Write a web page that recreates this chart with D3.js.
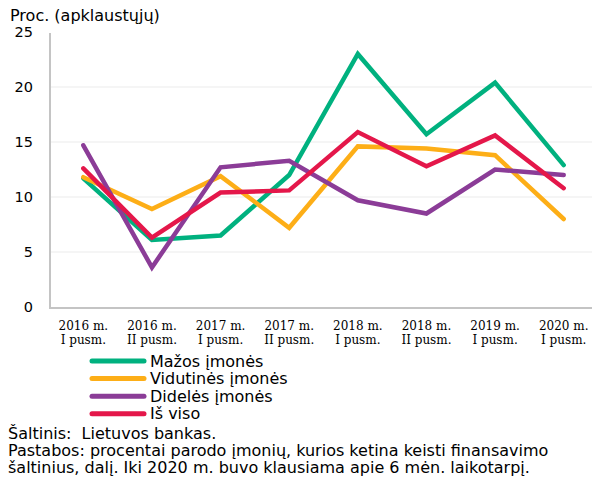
<!DOCTYPE html>
<html>
<head>
<meta charset="utf-8">
<script src="https://cdn.jsdelivr.net/npm/d3@7"></script>
<style>
  body { margin: 0; background: #fff; }
  svg { display: block; }
  text { font-family: "DejaVu Sans", Verdana, sans-serif; fill: #000; }
</style>
</head>
<body>
<div id="chart"></div>
<script>
var periods = [
    ["2016 m.", "I pusm."], ["2016 m.", "II pusm."], ["2017 m.", "I pusm."], ["2017 m.", "II pusm."],
    ["2018 m.", "I pusm."], ["2018 m.", "II pusm."], ["2019 m.", "I pusm."], ["2020 m.", "I pusm."]
];
var mazos = [11.7, 6.1, 6.5, 12.0, 23.0, 15.7, 20.4, 12.9];
var vidutines = [11.8, 8.9, 11.9, 7.2, 14.6, 14.4, 13.8, 8.0];
var dideles = [14.7, 3.6, 12.7, 13.3, 9.7, 8.5, 12.5, 12.0];
var isViso = [12.6, 6.3, 10.4, 10.6, 15.9, 12.8, 15.6, 10.8];
var yTicks = [0, 5, 10, 15, 20, 25];

var series = [
    {name: "Mažos įmonės", values: mazos, color: "#00b17f"},
    {name: "Vidutinės įmonės", values: vidutines, color: "#fdae17"},
    {name: "Didelės įmonės", values: dideles, color: "#8b3c97"},
    {name: "Iš viso", values: isViso, color: "#e4174a"}
];

var width = 592, height = 480;
var svg = d3.select("#chart").append("svg")
    .attr("width", width)
    .attr("height", height);

var x = d3.scaleBand()
    .domain(d3.range(periods.length))
    .range([49, 598]);
var y = d3.scaleLinear()
    .domain([0, 25])
    .range([307, 32]);

// y unit label
svg.append("text")
    .attr("x", 10).attr("y", 21)
    .style("font-size", "16px")
    .text("Proc. (apklaustųjų)");

// gridlines
svg.append("g").selectAll("line")
    .data(yTicks.filter(function (d) { return d > 0 && d < 25; }))
    .enter().append("line")
    .attr("x1", 50).attr("x2", width)
    .attr("y1", function (d) { return y(d); })
    .attr("y2", function (d) { return y(d); })
    .attr("stroke", "#ebebeb")
    .attr("stroke-width", 1);

// y axis
var yAxis = svg.append("g")
    .attr("transform", "translate(50,0)")
    .call(d3.axisLeft(y).tickValues(yTicks).tickSize(0).tickPadding(17));
yAxis.select(".domain").remove();
yAxis.selectAll("text")
    .style("font-family", "DejaVu Sans, sans-serif")
    .style("font-size", "14.5px")
    .attr("fill", "#000");

// frame lines
svg.append("line")
    .attr("x1", 50).attr("x2", 50)
    .attr("y1", 33).attr("y2", 308)
    .attr("stroke", "#c4c4c4").attr("stroke-width", 2);
svg.append("line")
    .attr("x1", 49).attr("x2", width)
    .attr("y1", 308).attr("y2", 308)
    .attr("stroke", "#c4c4c4").attr("stroke-width", 2);

// x labels
var xl = svg.append("g").selectAll("text")
    .data(periods)
    .enter().append("text")
    .attr("text-anchor", "middle")
    .style("font-family", "DejaVu Serif, serif")
    .style("font-size", "12px")
    .attr("transform", function (d, i) {
        return "translate(" + (x(i) + x.bandwidth() / 2) + ",0)";
    });
xl.append("tspan").attr("x", 0).attr("y", 330).text(function (d) { return d[0]; });
xl.append("tspan").attr("x", 0).attr("y", 344).text(function (d) { return d[1]; });

// lines
var line = d3.line()
    .x(function (d, i) { return x(i) + x.bandwidth() / 2; })
    .y(function (d) { return y(d); });

svg.append("g").selectAll("path")
    .data(series)
    .enter().append("path")
    .attr("d", function (d) { return line(d.values); })
    .attr("fill", "none")
    .attr("stroke", function (d) { return d.color; })
    .attr("stroke-width", 4.5)
    .attr("stroke-linecap", "round")
    .attr("stroke-linejoin", "miter");

// legend
var leg = svg.append("g").selectAll("g")
    .data(series)
    .enter().append("g")
    .attr("transform", function (d, i) { return "translate(0," + (361 + i * 17.6) + ")"; });
leg.append("line")
    .attr("x1", 92).attr("x2", 144)
    .attr("stroke", function (d) { return d.color; })
    .attr("stroke-width", 5)
    .attr("stroke-linecap", "round");
leg.append("text")
    .attr("x", 150).attr("y", 5.5)
    .style("font-size", "16px")
    .text(function (d) { return d.name; });

// notes
var notes = [
    "Šaltinis:  Lietuvos bankas.",
    "Pastabos: procentai parodo įmonių, kurios ketina keisti finansavimo",
    "šaltinius, dalį. Iki 2020 m. buvo klausiama apie 6 mėn. laikotarpį."
];
svg.append("g").selectAll("text")
    .data(notes)
    .enter().append("text")
    .attr("x", 8)
    .attr("y", function (d, i) { return 438.5 + i * 17.3; })
    .style("font-size", "16px")
    .style("white-space", "pre")
    .text(function (d) { return d; });
</script>
</body>
</html>
